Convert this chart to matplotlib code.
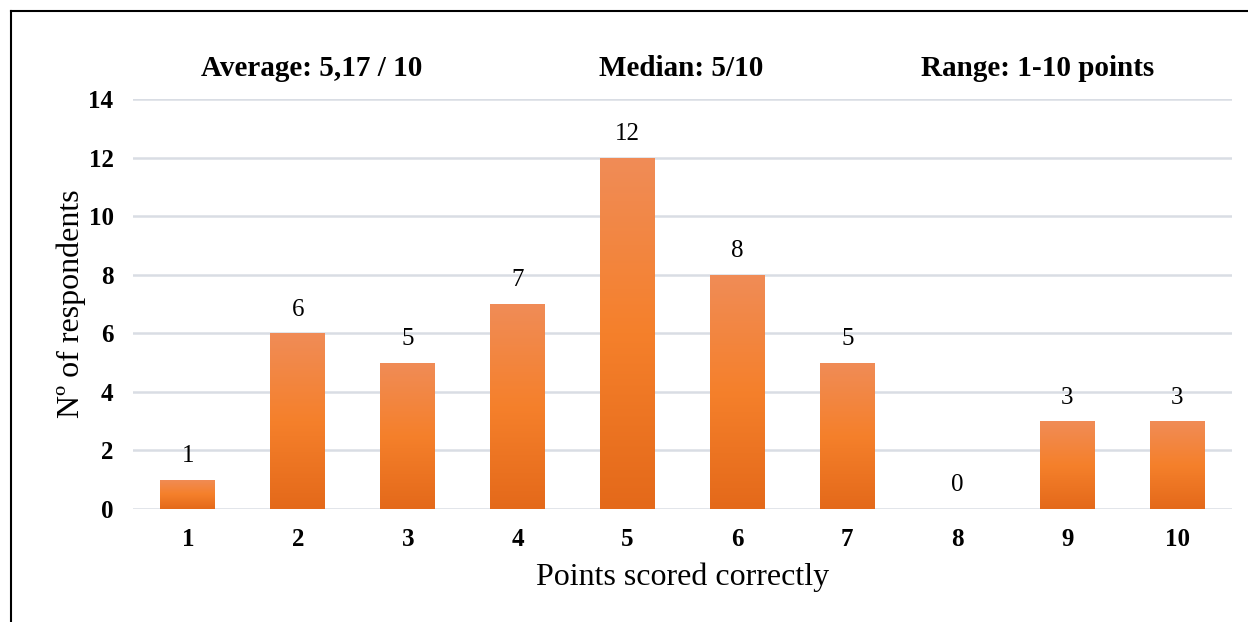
import matplotlib.pyplot as plt
import numpy as np
from matplotlib.colors import LinearSegmentedColormap
from matplotlib.lines import Line2D

# 各得分对应的人数
points = [1, 2, 3, 4, 5, 6, 7, 8, 9, 10]
respondents = [1, 6, 5, 7, 12, 8, 5, 0, 3, 3]
y_ticks = [0, 2, 4, 6, 8, 10, 12, 14]
header_texts = ['Average: 5,17 / 10', 'Median: 5/10', 'Range: 1-10 points']

plt.rcParams['font.family'] = ['Liberation Serif', 'DejaVu Serif']

# 柱子的渐变色: 上浅, 中间饱和, 下深
bar_cmap = LinearSegmentedColormap.from_list(
    'bar_grad', [(0.0, '#e4691a'), (0.5, '#f5802b'), (1.0, '#f08c57')])

fig = plt.figure(figsize=(12.48, 6.22), dpi=100, facecolor='white')
ax = fig.add_axes([133 / 1248, 113 / 622, 1099 / 1248, 410 / 622])

bars = ax.bar(points, respondents, width=0.5, color='none', zorder=3)
grad = np.linspace(0, 1, 256).reshape(-1, 1)
for b, v in zip(bars, respondents):
    if v > 0:
        x0 = b.get_x()
        im = ax.imshow(grad, cmap=bar_cmap, origin='lower', aspect='auto',
                       extent=[x0, x0 + b.get_width(), 0, v], zorder=3)
        im.set_clip_path(b)
    # 数据标签(0 也标出来)
    ax.text(b.get_x() + b.get_width() / 2, v + 0.6, str(v),
            ha='center', va='baseline', fontsize=18)

ax.set_xlim(0.5, 10.5)
ax.set_ylim(0, 14)
ax.set_xticks(points)
ax.set_yticks(y_ticks)
ax.tick_params(length=0, labelsize=18)
ax.xaxis.set_tick_params(pad=14)
ax.yaxis.set_tick_params(pad=14)
for lab in ax.get_xticklabels() + ax.get_yticklabels():
    lab.set_fontweight('bold')
ax.grid(axis='y', color='#d9dde4', linewidth=1.8, zorder=0)
for s in ax.spines.values():
    s.set_visible(False)

ax.set_xlabel('Points scored correctly', fontsize=23, labelpad=8)
ax.set_ylabel('Nº of respondents', fontsize=23, labelpad=2)

# 顶部统计信息
for x, t in zip([312, 681, 1038], header_texts):
    fig.text(x / 1248, 1 - 69 / 622, t, ha='center', va='center',
             fontsize=21, fontweight='bold')

# 左边和上边的边框线
fig.add_artist(Line2D([11 / 1248, 11 / 1248], [0, 1 - 11 / 622],
                      color='black', linewidth=1.5, transform=fig.transFigure))
fig.add_artist(Line2D([11 / 1248, 1], [1 - 11 / 622, 1 - 11 / 622],
                      color='black', linewidth=1.5, transform=fig.transFigure))

fig.savefig('out.png', dpi=100, facecolor='white')
